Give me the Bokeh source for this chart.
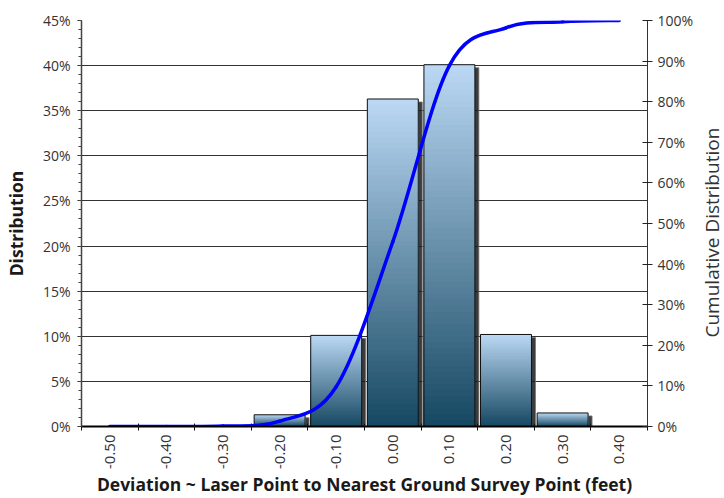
import math
import numpy as np
from bokeh.plotting import figure
from bokeh.layouts import row
from bokeh.models import Range1d, LinearAxis, FixedTicker, NumeralTickFormatter, Title
from bokeh.embed import file_html
from bokeh.resources import INLINE

# ---------------- data ----------------
bins = ["-0.50", "-0.40", "-0.30", "-0.20", "-0.10", "0.00", "0.10", "0.20", "0.30", "0.40"]
distribution = [0.0, 0.0, 0.0, 0.013, 0.101, 0.363, 0.401, 0.102, 0.015, 0.0]
cumulative = [0.0, 0.0, 0.001, 0.013, 0.098, 0.455, 0.889, 0.982, 0.997, 1.0]
left_ticks = [0.0, 0.05, 0.10, 0.15, 0.20, 0.25, 0.30, 0.35, 0.40, 0.45]
right_ticks = [0.0, 0.1, 0.2, 0.3, 0.4, 0.5, 0.6, 0.7, 0.8, 0.9, 1.0]
x_title = "Deviation ~ Laser Point to Nearest Ground Survey Point (feet)"
y_title = "Distribution"
y2_title = "Cumulative Distribution"

FONT = "Open Sans"
n = len(bins)
centers = [i + 0.5 for i in range(n)]

SIDE_W = 28
W, H = 724 - SIDE_W, 498
BL, BR, BT, BB = 80, 48, 20, 72
p = figure(width=W, height=H, output_backend="svg", toolbar_location=None,
           x_range=Range1d(0, n), y_range=Range1d(0, 0.45),
           min_border_left=BL, min_border_right=BR, min_border_top=BT, min_border_bottom=BB)
p.background_fill_color = "white"
p.border_fill_color = "white"
p.outline_line_color = None
p.extra_y_ranges = {"cum": Range1d(0, 1.0)}

# --------------- bars with vertical gradient ---------------
frame_w = W - BL - BR
frame_h = H - BT - BB
px_x = n / frame_w
px_y = 0.45 / frame_h

top_rgb = np.array([188, 217, 245])
bot_rgb = np.array([22, 72, 98])
N = 60

sl, sr, st, sb = [], [], [], []
for i, v in enumerate(distribution):
    if v <= 0:
        continue
    sl.append(i + 0.05 + 4 * px_x); sr.append(i + 0.95 + 4 * px_x)
    st.append(max(v - 3 * px_y, 0)); sb.append(0)
p.quad(left=sl, right=sr, top=st, bottom=sb, fill_color="#1a1a1a", fill_alpha=0.85,
       line_color="#777777", line_width=1, line_alpha=0.8)

L, R, B, T, C = [], [], [], [], []
for i, v in enumerate(distribution):
    if v <= 0:
        continue
    for k in range(N):
        j = N - k
        f = (j - 0.5) / N
        rgb = (bot_rgb + (top_rgb - bot_rgb) * f).astype(int)
        L.append(i + 0.05); R.append(i + 0.95)
        B.append(0); T.append(v * j / N)
        C.append("#%02x%02x%02x" % tuple(rgb))
p.quad(left=L, right=R, top=T, bottom=B, fill_color=C, line_color=None)

bl = [i + 0.05 for i, v in enumerate(distribution) if v > 0]
br = [i + 0.95 for i, v in enumerate(distribution) if v > 0]
bt = [v for v in distribution if v > 0]
p.quad(left=bl, right=br, top=bt, bottom=[0] * len(bt), fill_color=None,
       line_color="#111111", line_width=1)

# --------------- smoothed cumulative curve (Catmull-Rom -> Bezier) ---------------
xs = centers
ys = cumulative
x0, y0, x1, y1, cx0, cy0, cx1, cy1 = [], [], [], [], [], [], [], []
for i in range(n - 1):
    pm = i - 1 if i > 0 else i
    pp = i + 2 if i + 2 < n else i + 1
    x0.append(xs[i]); y0.append(ys[i])
    x1.append(xs[i + 1]); y1.append(ys[i + 1])
    cx0.append(xs[i] + (xs[i + 1] - xs[pm]) / 6); cy0.append(ys[i] + (ys[i + 1] - ys[pm]) / 6)
    cx1.append(xs[i + 1] - (xs[pp] - xs[i]) / 6); cy1.append(ys[i + 1] - (ys[pp] - ys[i]) / 6)
p.bezier(x0=x0, y0=y0, x1=x1, y1=y1, cx0=cx0, cy0=cy0, cx1=cx1, cy1=cy1,
         line_color="#0000ff", line_width=3.5, line_cap="round", y_range_name="cum")

# --------------- axes ---------------
xa = p.xaxis[0]
xa.ticker = FixedTicker(ticks=centers, minor_ticks=list(range(n + 1)))
xa.major_label_overrides = {c: b for c, b in zip(centers, bins)}
xa.major_tick_line_color = None
xa.minor_tick_line_color = "#111111"
xa.minor_tick_in = 3
xa.minor_tick_out = 4
xa.axis_line_color = "#000000"
xa.axis_line_width = 2
xa.major_label_orientation = math.pi / 2
xa.major_label_standoff = 2
xa.major_label_text_font = FONT
xa.major_label_text_font_size = "15px"
xa.major_label_text_color = "#333333"
xa.axis_label = x_title
xa.axis_label_text_font = FONT
xa.axis_label_text_font_style = "bold"
xa.axis_label_text_font_size = "17.5px"
xa.axis_label_text_color = "#1a1a1a"
xa.axis_label_standoff = 0

ya = p.yaxis[0]
minor = [k / 100 for k in range(0, 46)]
ya.ticker = FixedTicker(ticks=left_ticks, minor_ticks=minor)
ya.formatter = NumeralTickFormatter(format="0%")
ya.major_tick_in = 0
ya.major_tick_out = 4
ya.minor_tick_in = 0
ya.minor_tick_out = 3
ya.major_tick_line_color = "#222222"
ya.minor_tick_line_color = "#444444"
ya.axis_line_color = "#444444"
ya.axis_line_width = 1.5
ya.major_label_standoff = 7
ya.major_label_text_font = FONT
ya.major_label_text_font_size = "14px"
ya.major_label_text_color = "#333333"
ya.axis_label = y_title
ya.axis_label_text_font = FONT
ya.axis_label_text_font_style = "bold"
ya.axis_label_text_font_size = "17.5px"
ya.axis_label_text_color = "#1a1a1a"
ya.axis_label_standoff = 12

ra = LinearAxis(y_range_name="cum", ticker=FixedTicker(ticks=right_ticks, minor_ticks=[]),
                formatter=NumeralTickFormatter(format="0%"))
ra.major_tick_in = 5
ra.major_tick_out = 5
ra.major_tick_line_color = "#222222"
ra.minor_tick_line_color = None
ra.axis_line_color = "#333333"
ra.axis_line_width = 1
ra.major_label_standoff = 5
ra.major_label_text_font = FONT
ra.major_label_text_font_size = "14px"
ra.major_label_text_color = "#333333"
p.add_layout(ra, "right")

p.xgrid.grid_line_color = None
p.ygrid.ticker = FixedTicker(ticks=left_ticks)
p.ygrid.grid_line_color = "#333333"
p.ygrid.grid_line_width = 1

# --------------- narrow side panel carrying the right-hand axis title ---------------
side = figure(width=SIDE_W, height=H, output_backend="svg", toolbar_location=None,
              x_axis_location=None, y_axis_location=None,
              min_border_left=0, min_border_right=0, min_border_top=BT, min_border_bottom=BB)
side.outline_line_color = None
side.background_fill_color = "white"
side.border_fill_color = "white"
side.grid.visible = False
side.add_layout(Title(text=y2_title, align="left", text_font=FONT, text_font_size="19px",
                      text_font_style="normal", text_color="#333333", standoff=0, offset=89),
                "left")

layout = row(p, side)
open("out.html", "w").write(file_html(layout, INLINE))
